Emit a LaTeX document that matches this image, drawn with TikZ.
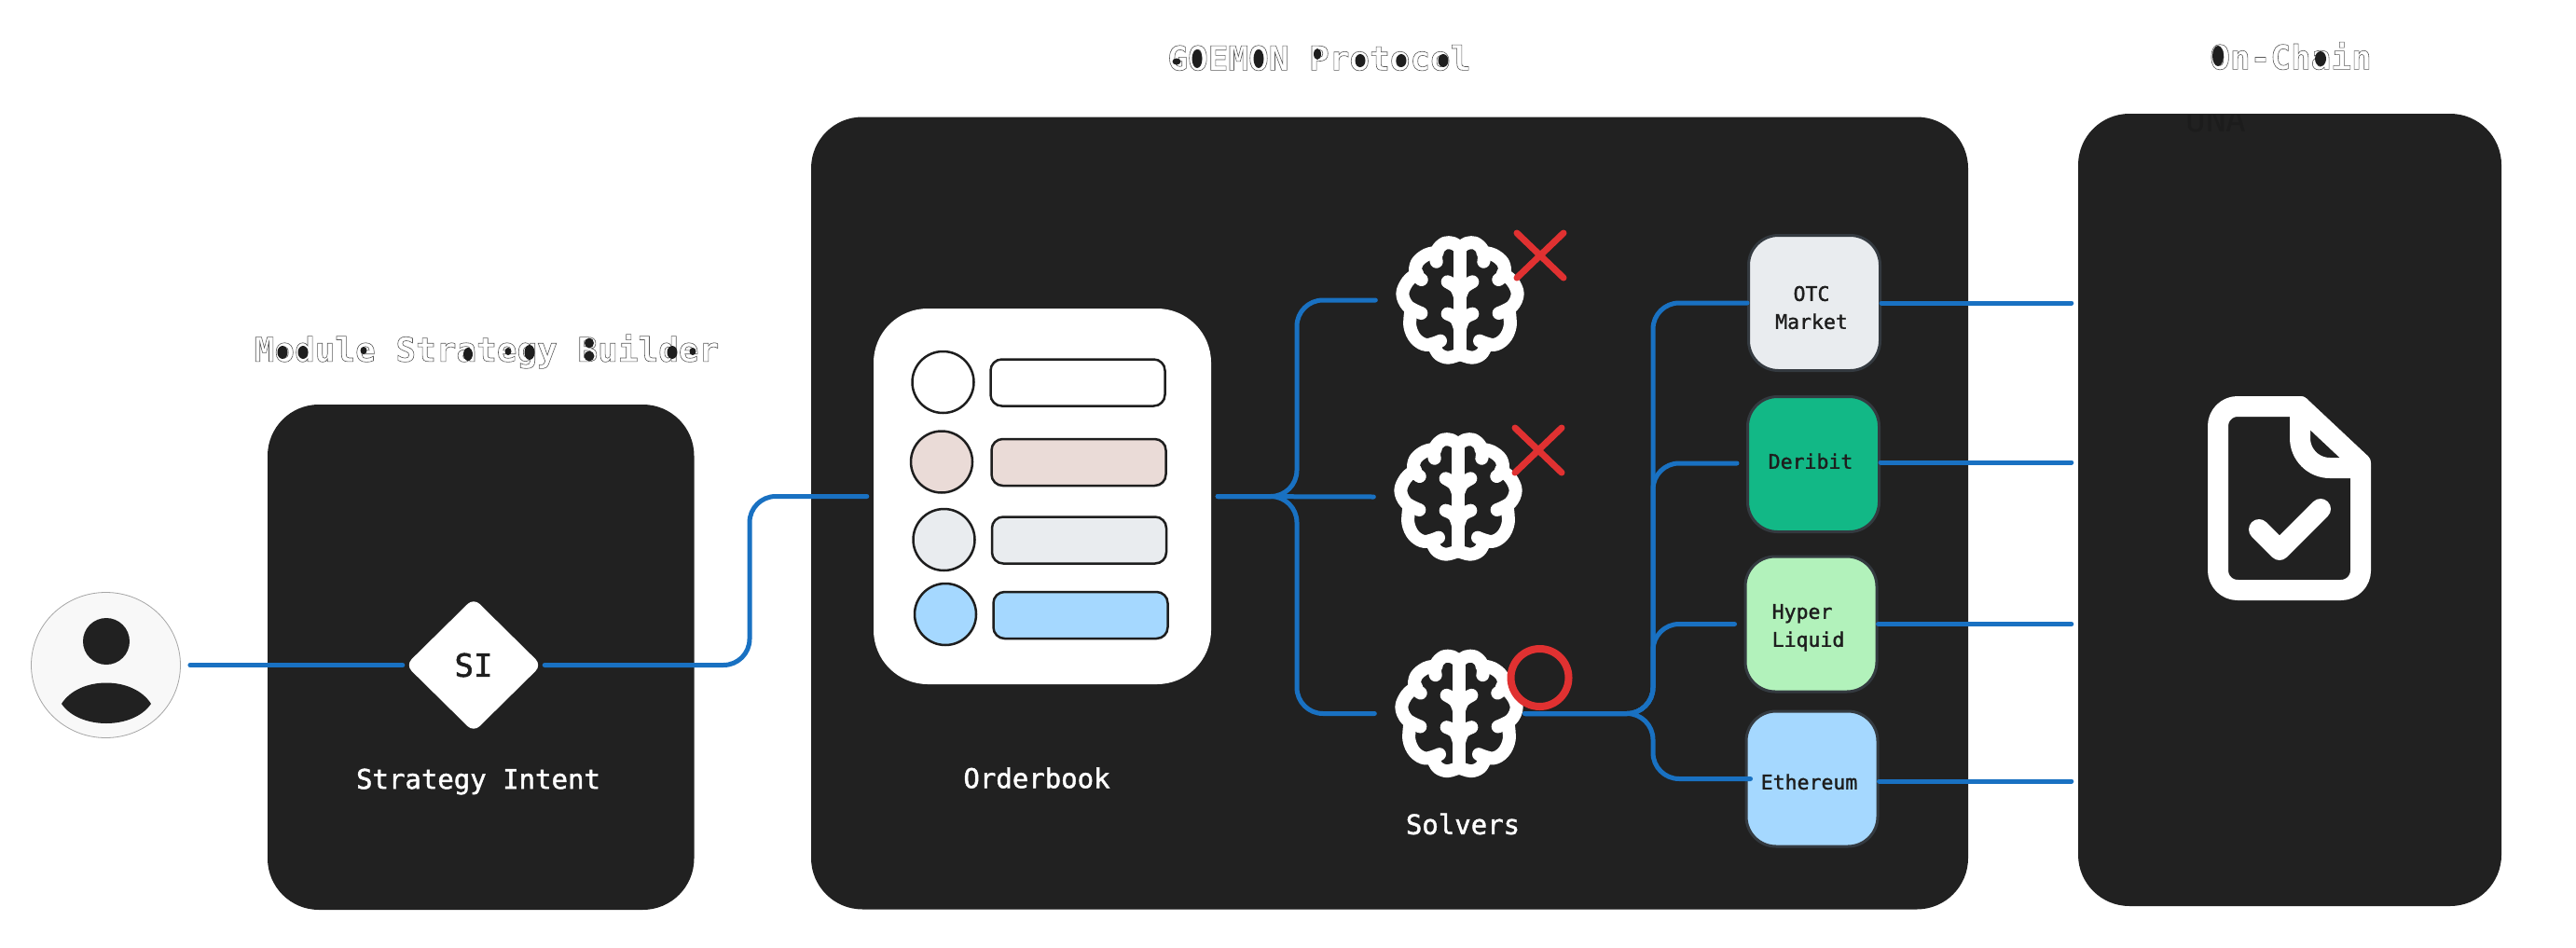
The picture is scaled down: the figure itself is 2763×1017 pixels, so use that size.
\documentclass[tikz,border=0pt]{standalone}
\usepackage{fontspec}
\setmainfont{DejaVu Sans Mono}
\newfontfamily\labelfont[FakeBold=1.5]{DejaVu Sans Mono}
\usetikzlibrary{shapes.geometric}
\definecolor{panelbg}{HTML}{212121}
\definecolor{ink}{HTML}{1E1E1E}
\definecolor{faint}{HTML}{1C1C1C}
\definecolor{wire}{HTML}{1971C2}
\definecolor{redmark}{HTML}{E03131}
\definecolor{boxedge}{HTML}{343A40}
\definecolor{rowtan}{HTML}{EADBD7}
\definecolor{rowgrey}{HTML}{E9ECEF}
\definecolor{rowblue}{HTML}{A5D8FF}
\definecolor{dgreen}{HTML}{12B886}
\definecolor{lgreen}{HTML}{B2F2BB}
\definecolor{userbg}{HTML}{F8F8F8}
\newcommand\outlined[1]{{\bfseries\color{white}\special{pdf:code q 2 Tr 0.6 w 0.35 0.35 0.35 RG}#1\special{pdf:code Q}}}
\newcommand\vt[4]{\hspace*{#1}\raisebox{#2}[0pt][0pt]{\begin{tabular}[c]{@{}#3@{}}#4\end{tabular}}}
\newcommand\brainhalf{%
  \draw[brainline] plot[smooth,tension=.6] coordinates {(0,-168) (-22,-183) (-48,-184) (-70,-166) (-78,-143) (-76,-124)};
  \draw[brainline] plot[smooth,tension=.6] coordinates {(-73,-154) (-108,-146) (-138,-121) (-143,-86) (-124,-66)};
  \draw[brainline] plot[smooth,tension=.6] coordinates {(-138,-86) (-168,-61) (-185,-21) (-168,19) (-125,42)};
  \draw[brainline] plot[smooth,tension=.6] coordinates {(-158,34) (-161,84) (-143,124) (-108,144) (-63,131)};
  \draw[brainline] plot[smooth,tension=.6] coordinates {(-83,149) (-68,174) (-38,185) (0,174)};
  \draw[brainline] plot[smooth,tension=.6] coordinates {(0,-11) (-13,-41) (-40,-59)};
  \draw[brainline] plot[smooth,tension=.6] coordinates {(0,92) (-13,59) (-40,44)};
}
\newcommand\brainicon[2]{%
  \begin{scope}[shift={(#1,#2)},x=.3333pt,y=-.3333pt]
    \brainhalf
    \begin{scope}[xscale=-1]\brainhalf\end{scope}
    \draw[brainline,line cap=butt] (0,-176) -- (0,180);
  \end{scope}%
}
\newcommand\blob[4]{\fill[ink] (#1,#2) ellipse [x radius=#3pt,y radius=#4pt];}
\tikzset{
  panel/.style={draw=none,fill=panelbg,rounded corners=55pt,inner sep=0pt},
  wirepath/.style={draw=wire,line width=5pt,line cap=round,rounded corners=28pt},
  rowdot/.style={circle,draw=ink,line width=2.5pt,minimum size=66pt,inner sep=0pt},
  rowbar/.style={rectangle,draw=ink,line width=2.5pt,rounded corners=12pt,minimum width=187pt,minimum height=50pt,inner sep=0pt},
  venue/.style={rectangle,draw=boxedge,line width=3pt,rounded corners=32pt,minimum width=141pt,minimum height=145pt,inner sep=0pt,text=ink,font=\labelfont\fontsize{21.5}{30}\selectfont},
  whitelabel/.style={text=white,inner sep=0pt,font=\labelfont\fontsize{29}{35}\selectfont},
  titlelabel/.style={inner sep=0pt,font=\fontsize{36}{42}\selectfont},
  brainline/.style={draw=white,line width=14pt,line cap=round,line join=round},
  slot/.style={inner sep=0pt,minimum size=137pt},
  cross/.style={draw=redmark,line width=7pt,line cap=round},
  docline/.style={draw=white,line width=22pt,line cap=round,line join=round},
}
\begin{document}
\begin{tikzpicture}[x=1pt,y=-1pt]
\path[use as bounding box,fill=white] (0,0) rectangle (2763,1017);

% titles
\node[titlelabel] (t1) at (522,377) {\outlined{Module Strategy Builder}};
\node[titlelabel] (t2) at (1415,62) {\outlined{GOEMON Protocol}};
\node[titlelabel] (t3) at (2457,60) {\outlined{On-Chain}};
\blob{303}{378}{5.5}{7}\blob{325}{378}{5.5}{7}\blob{390}{376}{3.5}{4}\blob{502}{380}{5}{7}
\blob{545}{377}{3.5}{4}\blob{568}{378}{5.5}{8}\blob{632}{368}{5}{5.5}\blob{632}{382}{5.5}{5.5}
\blob{721}{378}{5.5}{7}\blob{743}{377}{3.5}{4}
\blob{1262}{66}{4.5}{3.5}\blob{1284}{63}{5.5}{10}\blob{1350}{63}{5.5}{10}\blob{1413}{58}{4}{6}
\blob{1459}{65}{5.5}{7}\blob{1503}{65}{5.5}{7}\blob{1548}{65}{5.5}{7}
\blob{2379}{60}{6}{11}\blob{2489}{63}{6}{8}

% panels
\node[panel,minimum width=457.5pt,minimum height=542pt] (builder) at (515.75,705) {};
\node[panel,minimum width=1241pt,minimum height=850pt] (protocol) at (1490.5,550.5) {};
\node[panel,minimum width=454pt,minimum height=850pt] (chain) at (2456,547) {};
\begin{scope}
  \clip (2300,123) rectangle (2460,160);
  \node[anchor=base,inner sep=0pt,text=faint,font=\fontsize{36}{42}\selectfont] (una) at (2377,141) {UNA};
\end{scope}

% user
\node[ellipse,draw=black!35,line width=.8pt,fill=userbg,minimum width=160pt,minimum height=156pt,inner sep=0pt] (user) at (113.5,713.5) {};
\fill[panelbg] (114,688) circle [radius=25pt];
\fill[panelbg] (66,755) .. controls (85,725) and (143,725) .. (162,755) .. controls (143,783) and (85,783) .. (66,755);

% strategy intent
\node[diamond,aspect=1,fill=white,rounded corners=9pt,minimum width=146pt,minimum height=144pt,inner sep=0pt,text=ink,font=\labelfont\fontsize{34}{40}\selectfont] (si) at (508,713.5) {SI};
\node[whitelabel] (silabel) at (513,838.5) {Strategy Intent};

% orderbook
\node[rectangle,fill=white,rounded corners=58pt,minimum width=362pt,minimum height=403pt,inner sep=0pt] (book) at (1118,532.5) {};
\node[rowdot,fill=white] (d1) at (1011.5,410) {};
\node[rowdot,fill=rowtan] (d2) at (1010,495.5) {};
\node[rowdot,fill=rowgrey] (d3) at (1012.5,579) {};
\node[rowdot,fill=rowblue] (d4) at (1014,659) {};
\node[rowbar,fill=white] (b1) at (1156,410.5) {};
\node[rowbar,fill=rowtan] (b2) at (1157,496) {};
\node[rowbar,fill=rowgrey] (b3) at (1157.5,579.5) {};
\node[rowbar,fill=rowblue] (b4) at (1159,660) {};
\node[whitelabel] (oblabel) at (1112,834.5) {Orderbook};

% solvers
\node[slot] (s1) at (1566,322) {};
\node[slot] (s2) at (1564,533) {};
\node[slot] (s3) at (1565,765.5) {};
\brainicon{1566}{322}
\brainicon{1564}{533}
\brainicon{1565}{765.5}
\node[whitelabel] (sollabel) at (1569,884) {Solvers};
\draw[cross] (1627,250) -- (1677,298);
\draw[cross] (1677,250) -- (1627,298);
\draw[cross] (1625,459) -- (1675,507);
\draw[cross] (1675,459) -- (1625,507);
\draw[draw=redmark,line width=8pt] (1651.5,727) circle [radius=31pt];

% venues
\node[venue,fill=rowgrey] (otc) at (1946,325) {\vt{-6pt}{-12pt}{c}{OTC\\Market}};
\node[venue,fill=dgreen] (deribit) at (1945,498) {\vt{-6pt}{-4pt}{c}{Deribit}};
\node[venue,fill=lgreen] (hyper) at (1942.5,669.5) {\vt{-6pt}{-8.5pt}{l}{Hyper\\Liquid}};
\node[venue,fill=rowblue] (eth) at (1943.5,835.5) {\vt{-6pt}{-10.5pt}{c}{Ethereum}};

% document icon
\draw[docline,rounded corners=21pt] (2467,436) -- (2379,436) -- (2379,633) -- (2532,633) -- (2532,497);
\draw[docline] (2532,497) -- (2467,436);
\draw[docline,rounded corners=32pt] (2467,436) -- (2467,502) -- (2532,502);
\draw[docline] (2423,568) -- (2445,590) -- (2489,546);

% connector waypoints
\coordinate (bendA) at (804,620);
\coordinate (fanA) at (1391,430);
\coordinate (fanB) at (1391,650);
\coordinate (bus) at (1773,600);

% connectors
\draw[wirepath] ([xshift=10pt]user.east) -- ([xshift=-3pt]si.west);
\draw[wirepath] ([xshift=3pt]si.east) -| (bendA) |- ([xshift=-7pt]book.west);
\draw[wirepath] ([xshift=7pt]book.east) -| (fanA) |- ([xshift=-22pt]s1.west);
\draw[wirepath] ([xshift=7pt]book.east) -- ([xshift=-22pt]s2.west);
\draw[wirepath] ([xshift=7pt]book.east) -| (fanB) |- ([xshift=-22pt]s3.west);
\draw[wirepath] ([xshift=2pt]s3.east) -- (bus |- s3.east) -- (bus |- otc.west) -- (otc.west);
\draw[wirepath] ([xshift=2pt]s3.east) -- (bus |- s3.east) -- ([yshift=1pt]bus |- deribit.west) -- ([xshift=-10pt,yshift=1pt]deribit.west);
\draw[wirepath] ([xshift=2pt]s3.east) -- (bus |- s3.east) -- (bus |- hyper.west) -- ([xshift=-10pt]hyper.west);
\draw[wirepath] ([xshift=2pt]s3.east) -- (bus |- s3.east) -- (bus |- eth.west) -- ([xshift=6pt]eth.west);
\draw[wirepath] (otc.east) -- ([xshift=-7pt]otc.east -| chain.west);
\draw[wirepath] ([yshift=2pt]deribit.east) -- ([xshift=-7pt,yshift=2pt]deribit.east -| chain.west);
\draw[wirepath] (hyper.east) -- ([xshift=-7pt]hyper.east -| chain.west);
\draw[wirepath] ([yshift=-2.5pt]eth.east) -- ([xshift=-7pt,yshift=-2.5pt]eth.east -| chain.west);
\end{tikzpicture}
\end{document}
